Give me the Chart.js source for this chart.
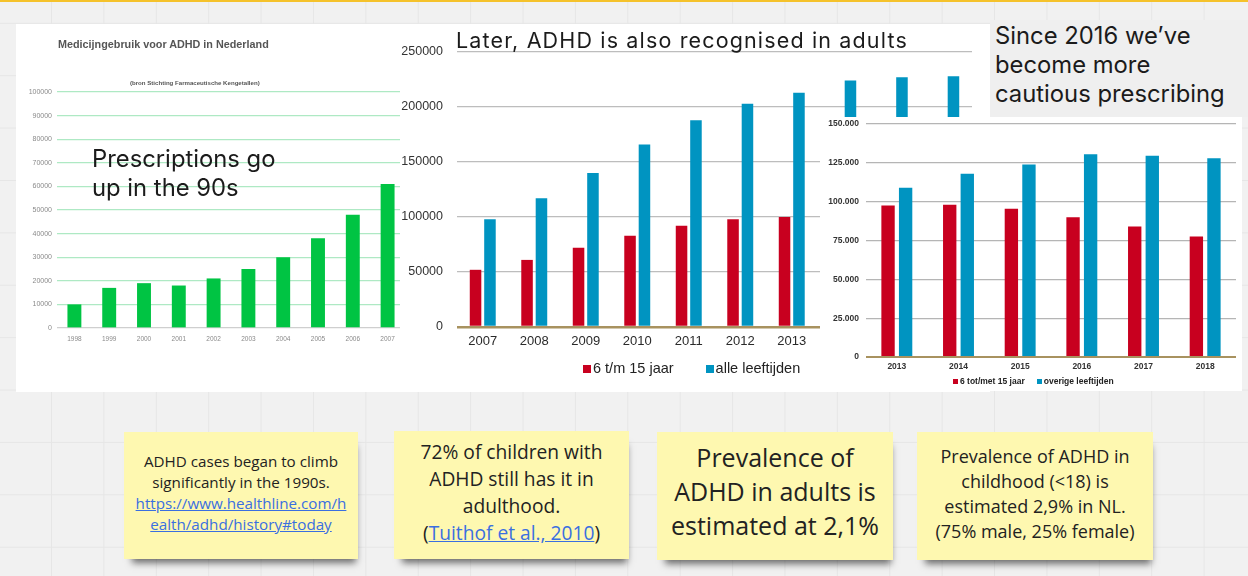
<!DOCTYPE html>
<html>
<head>
<meta charset="utf-8">
<script src="https://cdn.jsdelivr.net/npm/chart.js@4"></script>
<style>
  html, body { margin: 0; padding: 0; }
  body {
    width: 1248px; height: 576px; overflow: hidden; position: relative;
    background-color: #f1f1f1;
    background-image: linear-gradient(to right, #e6e6e6 1px, transparent 1px),
                      linear-gradient(to bottom, #e6e6e6 1px, transparent 1px);
    background-size: 52.4px 52.4px;
    background-position: -1.4px 22.8px;
  }
  .topline { position: absolute; left: 0; top: 0; width: 1248px; height: 2px; background: #f5c22b; }
  .panel { position: absolute; background: #fff; }
  .panel canvas { display: block; }
  .txt { position: absolute; white-space: nowrap; color: #1b1b1b; font-family: Inter, sans-serif; }
  .chartTitle { position: absolute; white-space: nowrap; font-family: 'Liberation Sans', Arial, sans-serif; font-weight: bold; color: #555; }
  .note { position: absolute; background: #fef8b0; box-shadow: 3px 9px 7px -5px rgba(0,0,0,0.55); }
  .note div { position: absolute; left: 0; right: 0; text-align: center; color: #222; font-family: 'Open Sans', sans-serif; white-space: nowrap; }
  .note a { color: #3a6fe0; text-decoration: underline; }
  .legend { position: absolute; white-space: nowrap; font-family: 'Liberation Sans', Arial, sans-serif; color: #222; }
  .legend .sw { display: inline-block; vertical-align: middle; }
  .legend .item { display: inline-block; }
</style>
</head>
<body>
<div class="topline"></div>

<div class="panel" id="p1" style="left:16px;top:24px;width:389px;height:368px;"><canvas id="chart1" width="389" height="368"></canvas></div>
<div class="panel" id="p2" style="left:400px;top:24px;width:590px;height:368px;"><canvas id="chart2" width="590" height="368"></canvas></div>
<div class="panel" style="left:990px;top:20px;width:258px;height:97px;background:#efefef;"></div>
<div class="panel" id="p3" style="left:820px;top:117px;width:422px;height:274px;"><canvas id="chart3" width="422" height="274"></canvas></div>

<div class="chartTitle" style="left:58px;top:38px;font-size:10.8px;line-height:12px;">Medicijngebruik voor ADHD in Nederland</div>
<div class="chartTitle" style="left:130px;top:80px;font-size:6.1px;line-height:6px;">(bron Stichting Farmaceutische Kengetallen)</div>

<div class="txt" style="left:92px;top:143.5px;font-size:23.8px;line-height:29px;">Prescriptions go<br>up in the 90s</div>
<div class="txt" style="left:456px;top:27px;font-size:21.5px;line-height:26px;letter-spacing:1.15px;">Later, ADHD is also recognised in adults</div>
<div class="txt" style="left:995px;top:22.3px;font-size:23.8px;line-height:28.8px;">Since 2016 we’ve<br>become more<br>cautious prescribing</div>

<div class="legend" id="legend2" style="left:583px;top:360px;font-size:14.5px;line-height:16px;"></div>
<div class="legend" id="legend3" style="left:953px;top:376px;font-size:8.5px;line-height:10px;font-weight:bold;"></div>

<div class="note" style="left:124px;top:432px;width:234px;height:127px;">
  <div style="top:18.5px;font-size:15.2px;line-height:21px;">ADHD cases began to climb<br>significantly in the 1990s.<br><a>https://www.healthline.com/h</a><br><a>ealth/adhd/history#today</a></div>
</div>
<div class="note" style="left:394px;top:431px;width:235px;height:128px;">
  <div style="top:7.2px;font-size:19.2px;line-height:27px;">72% of children with<br>ADHD still has it in<br>adulthood.<br>(<a>Tuithof et al., 2010</a>)</div>
</div>
<div class="note" style="left:657px;top:432px;width:236px;height:128px;">
  <div style="top:8.3px;font-size:25px;line-height:34px;">Prevalence of<br>ADHD in adults is<br>estimated at 2,1%</div>
</div>
<div class="note" style="left:917px;top:432px;width:236px;height:128px;">
  <div style="top:11.5px;font-size:18px;line-height:25px;">Prevalence of ADHD in<br>childhood (&lt;18) is<br>estimated 2,9% in NL.<br>(75% male, 25% female)</div>
</div>

<script>
// chart 1: medicine use 1998-2007
const years1 = ['1998', '1999', '2000', '2001', '2002', '2003', '2004', '2005', '2006', '2007'];
const users1 = [10000, 17000, 19000, 18000, 21000, 25000, 30000, 38000, 48000, 61000];

// chart 2: 2007-2016 (2014-2016 mostly hidden behind chart 3)
const years2 = ['2007', '2008', '2009', '2010', '2011', '2012', '2013', '2014', '2015', '2016'];
const kids2 = [52000, 61000, 72000, 83000, 92000, 98000, 100000, 98000, 95500, 90000];
const allAges2 = [98000, 117000, 140000, 166000, 188000, 203000, 213000, 224000, 227000, 228000];
const labels2 = ['6 t/m 15 jaar', 'alle leeftijden'];

// chart 3: 2013-2018
const years3 = ['2013', '2014', '2015', '2016', '2017', '2018'];
const kids3 = [97500, 98000, 95500, 90000, 84000, 77500];
const otherAges3 = [109000, 118000, 124000, 130500, 129500, 128000];
const labels3 = ['6 tot/met 15 jaar', 'overige leeftijden'];

const red = '#c8001f';
const blue = '#0094c1';
const green = '#00c443';

Chart.defaults.font.family = "'Liberation Sans', Arial, sans-serif";
Chart.defaults.animation = false;

const fixWidth = w => scale => { scale.width = w; };
const fixHeight = h => scale => { scale.height = h; };
const plain = v => String(v);

new Chart(document.getElementById('chart1'), {
    type: 'bar',
    data: {
        labels: years1,
        datasets: [{ data: users1, backgroundColor: green, categoryPercentage: 0.8, barPercentage: 0.5 }]
    },
    options: {
        responsive: false,
        layout: { autoPadding: false, padding: { left: 0, right: 0, top: 68, bottom: 40 } },
        plugins: { legend: { display: false }, tooltip: { enabled: false } },
        scales: {
            x: {
                afterFit: fixHeight(24),
                grid: { display: false, drawTicks: false },
                border: { display: false },
                ticks: { color: '#8a8a8a', font: { size: 6.5 }, padding: 7 }
            },
            y: {
                min: 0, max: 100000,
                afterFit: fixWidth(41),
                border: { display: false },
                grid: {
                    drawTicks: false,
                    color: c => c.tick.value === 0 ? '#cfcfcf' : '#aee9c4',
                    lineWidth: 1.3
                },
                ticks: { stepSize: 10000, color: '#8a8a8a', font: { size: 7 }, padding: 5, callback: plain }
            }
        }
    }
});

new Chart(document.getElementById('chart2'), {
    type: 'bar',
    data: {
        labels: years2,
        datasets: [
            { label: labels2[0], data: kids2, backgroundColor: red, categoryPercentage: 0.56, barPercentage: 0.8 },
            { label: labels2[1], data: allAges2, backgroundColor: blue, categoryPercentage: 0.56, barPercentage: 0.8 }
        ]
    },
    options: {
        responsive: false,
        layout: { autoPadding: false, padding: { left: 0, right: 18, top: 28, bottom: 35 } },
        plugins: { legend: { display: false }, tooltip: { enabled: false } },
        scales: {
            x: {
                afterFit: fixHeight(30),
                grid: { display: false, drawTicks: false },
                border: { display: false },
                ticks: { color: '#2a2a2a', font: { size: 13 }, padding: 7 }
            },
            y: {
                min: 0, max: 250000,
                afterFit: fixWidth(57),
                border: { display: false },
                grid: {
                    drawTicks: false,
                    color: c => c.tick.value === 0 ? '#a8925f' : '#bdbdbd',
                    lineWidth: c => c.tick.value === 0 ? 2.5 : 1.3
                },
                ticks: { stepSize: 50000, color: '#333', font: { size: 12.5 }, padding: 14, callback: plain }
            }
        }
    }
});

new Chart(document.getElementById('chart3'), {
    type: 'bar',
    data: {
        labels: years3,
        datasets: [
            { label: labels3[0], data: kids3, backgroundColor: red, categoryPercentage: 0.57, barPercentage: 0.76 },
            { label: labels3[1], data: otherAges3, backgroundColor: blue, categoryPercentage: 0.57, barPercentage: 0.76 }
        ]
    },
    options: {
        responsive: false,
        layout: { autoPadding: false, padding: { left: 0, right: 6, top: 7, bottom: 18 } },
        plugins: { legend: { display: false }, tooltip: { enabled: false } },
        scales: {
            x: {
                afterFit: fixHeight(16),
                grid: { display: false, drawTicks: false },
                border: { display: false },
                ticks: { color: '#333', font: { size: 8.5, weight: 'bold' }, padding: 5 }
            },
            y: {
                min: 0, max: 150000,
                afterFit: fixWidth(46),
                border: { display: false },
                grid: {
                    // invisible tick marks keep the labels off the plot without adding top padding
                    drawTicks: true, tickLength: 7, tickColor: 'rgba(0,0,0,0)',
                    color: c => c.tick.value === 0 ? '#a8925f' : '#b5b5b5',
                    lineWidth: c => c.tick.value === 0 ? 2 : 1.3
                },
                ticks: {
                    stepSize: 25000, color: '#333', font: { size: 8.5, weight: 'bold' }, padding: 0,
                    callback: v => String(v).replace(/\B(?=(\d{3})+(?!\d))/g, '.')
                }
            }
        }
    }
});

// html legends, placed like the original images
makeLegend = (id, labels, swatch, gap) => {
    let box = document.getElementById(id);
    [red, blue].forEach((col, i) => {
        let item = document.createElement('span');
        item.className = 'item';
        if (i > 0) item.style.marginLeft = gap + 'px';
        let sw = document.createElement('span');
        sw.className = 'sw';
        sw.style.width = swatch + 'px';
        sw.style.height = swatch + 'px';
        sw.style.background = col;
        sw.style.marginRight = '2px';
        item.appendChild(sw);
        item.appendChild(document.createTextNode(labels[i]));
        box.appendChild(item);
    });
}

makeLegend('legend2', labels2, 8, 32);
makeLegend('legend3', labels3, 5, 12);
</script>
</body>
</html>
